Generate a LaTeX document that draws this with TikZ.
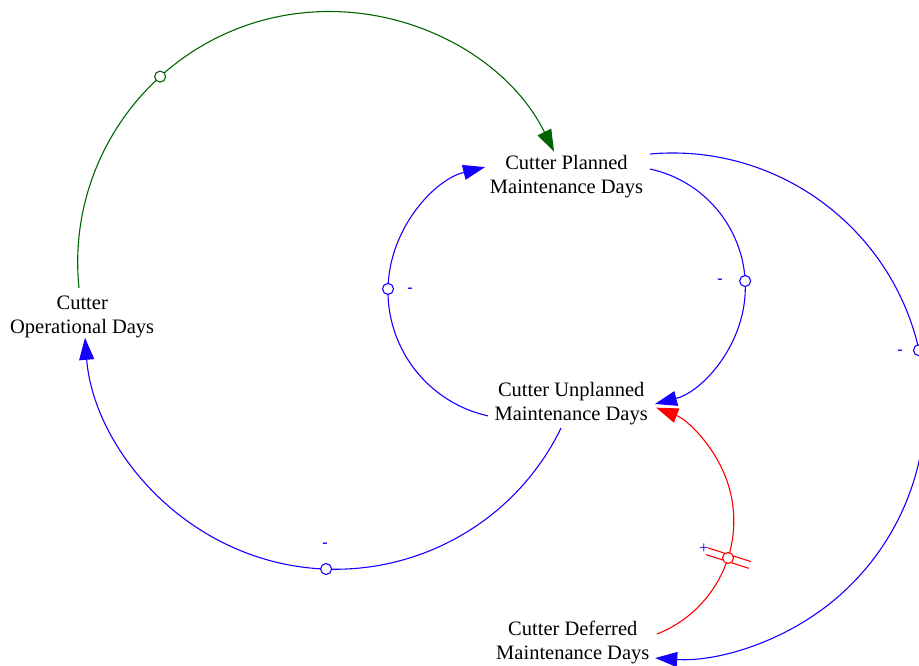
\documentclass[tikz,border=0pt]{standalone}
\usepackage{fontspec}
\setmainfont{Liberation Serif}
\usetikzlibrary{arrows.meta,calc}
\definecolor{gr}{RGB}{0,100,0}
\definecolor{bl}{RGB}{20,0,255}
\definecolor{rd}{RGB}{255,0,0}
\begin{document}
\begin{tikzpicture}[x=1pt,y=-1pt,
  var/.style={align=center,font=\fontsize{20.5}{24}\selectfont,inner sep=0pt},
  lnk/.style={line width=1.1pt},
  tipx/.style={-{Triangle[length=22pt,width=15pt]}},
  mk/.style={circle,draw,fill=white,line width=1.1pt,minimum size=11pt,inner sep=0pt},
  pol/.style={text=bl,font=\fontsize{16}{16}\selectfont\bfseries,inner sep=0pt}]
\useasboundingbox (0,0) rectangle (919,666);
% variables
\node[var] (plan) at (566.5,176.6) {Cutter Planned\\Maintenance Days};
\node[var] (unpl) at (571.2,404) {Cutter Unplanned\\Maintenance Days};
\node[var] (oper) at (82.2,316.6) {Cutter\\Operational Days};
\node[var] (defr) at (572.8,642) {Cutter Deferred\\Maintenance Days};
% arc centres
\coordinate (cg) at (328.8,262.6);
\coordinate (cb) at (672.4,405.8);
\coordinate (cr1) at (624.5,287.1);
\coordinate (cl1) at (515.8,291.15);
\coordinate (cbt) at (335.3,318.1);
\coordinate (crd) at (612.2,521);
% start points
\coordinate (sg) at ($(cg)+(174.2:251.1)$);
\coordinate (sb) at ($(cb)+(-95.1:252.8)$);
\coordinate (sr1) at ($(cr1)+(-77.8:120.8)$);
\coordinate (sl1) at ($(cl1)+(102.6:127.8)$);
\coordinate (sbt) at ($(cbt)+(26.0:251.1)$);
\coordinate (srd) at ($(crd)+(68.4:121.6)$);
% links
\draw[lnk,gr,tipx] (sg) arc[start angle=174.2,end angle=333.8,radius=251.1];
\draw[lnk,bl,tipx] (sb) arc[start angle=-95.1,end angle=93.9,radius=252.8];
\draw[lnk,bl,tipx] (sr1) arc[start angle=-77.8,end angle=75.4,radius=120.8];
\draw[lnk,bl,tipx] (sl1) arc[start angle=102.6,end angle=256.1,radius=127.8];
\draw[lnk,bl,tipx] (sbt) arc[start angle=26.0,end angle=175.5,radius=251.1];
\draw[lnk,rd,tipx] (srd) arc[start angle=68.4,end angle=-68.8,radius=121.6];
% delay mark
\draw[lnk,rd] ($(crd)+(17.7:99.6)+(107.7:3.5)$) -- ($(crd)+(17.7:144.6)+(107.7:3.5)$);
\draw[lnk,rd] ($(crd)+(17.7:99.6)+(-72.3:3.5)$) -- ($(crd)+(17.7:144.6)+(-72.3:3.5)$);
% markers
\node[mk,draw=gr] (mg) at ($(cg)+(227.8:251.1)$) {};
\node[mk,draw=bl] (mb) at ($(cb)+(-12.7:252.8)$) {};
\node[mk,draw=bl] (mr1) at ($(cr1)+(-2.9:120.8)$) {};
\node[mk,draw=bl] (ml1) at ($(cl1)+(181:127.8)$) {};
\node[mk,draw=bl] (mbt) at ($(cbt)+(92.1:251.1)$) {};
\node[mk,draw=rd] (mrd) at ($(crd)+(17.7:121.6)$) {};
% polarities
\node[pol] (p1) at (900,352) {-};
\node[pol] (p2) at (720,281) {-};
\node[pol] (p3) at (410,290) {-};
\node[pol] (p4) at (325,545) {-};
\node[pol,font=\fontsize{17}{17}\selectfont] (p5) at (704,549) {+};
\end{tikzpicture}
\end{document}
